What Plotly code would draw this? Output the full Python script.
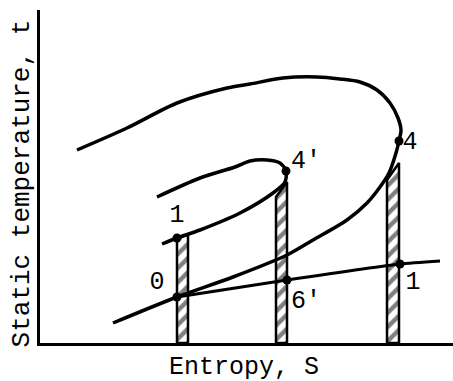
import plotly.graph_objects as go

# ---- data (entropy S, static temperature t) ----
outer_s = [7.3, 13.7, 19.3, 24.7, 27.3, 30.7, 32.7, 34.0, 34.9, 35.6, 35.9, 36.1, 35.8, 35.0, 33.7, 32.0, 30.0, 27.7, 24.3, 21.0, 18.7, 13.7, 8.7, 3.7]
outer_t = [2.0, 4.6, 6.6, 8.8, 10.3, 12.3, 14.0, 15.6, 17.0, 19.0, 20.2, 21.3, 22.5, 24.0, 25.3, 26.1, 26.4, 26.6, 26.5, 25.9, 25.5, 24.0, 21.5, 19.3]

inner_s = [12.2, 13.7, 16.0, 20.0, 23.3, 24.5, 24.6, 24.0, 22.7, 21.0, 19.5, 16.0, 11.7]
inner_t = [9.9, 10.5, 11.3, 13.0, 15.0, 16.1, 17.2, 18.0, 18.3, 18.2, 17.6, 16.5, 14.6]

line_s = [13.7, 24.7, 36.0, 40.0]
line_t = [4.6, 6.3, 7.9, 8.2]

point_s = [13.7, 13.7, 24.6, 35.9, 24.7, 36.0]
point_t = [10.5, 4.6, 17.2, 20.2, 6.3, 7.9]

label_text = ["1", "0", "4'", "4", "6'", "1"]
label_s = [13.7, 11.7, 26.6, 37.0, 26.6, 37.3]
label_t = [12.7, 6.0, 18.1, 20.0, 4.1, 6.0]

# hatched columns: left/right entropy and top temperature at each side
col_left = [13.7, 23.6, 34.7]
col_right = [14.8, 24.7, 35.9]
col_top_left = [10.5, 14.6, 16.3]
col_top_right = [10.8, 16.1, 18.0]

FONT = "Courier New, Liberation Mono, monospace"

fig = go.Figure()

for sl, sr, tl, tr in zip(col_left, col_right, col_top_left, col_top_right):
    fig.add_trace(go.Scatter(
        x=[sl, sl, sr, sr, sl], y=[0, tl, tr, 0, 0],
        mode='lines', fill='toself', fillcolor='white',
        fillpattern=dict(shape='/', size=10, solidity=0.45, fgcolor='black', bgcolor='white'),
        line=dict(color='black', width=2.5), hoverinfo='skip', showlegend=False))

fig.add_trace(go.Scatter(x=outer_s, y=outer_t, mode='lines', line=dict(color='black', width=3.5, shape='spline', smoothing=0.8), showlegend=False))
fig.add_trace(go.Scatter(x=inner_s, y=inner_t, mode='lines', line=dict(color='black', width=3.5, shape='spline', smoothing=0.8), showlegend=False))
fig.add_trace(go.Scatter(x=line_s, y=line_t, mode='lines', line=dict(color='black', width=3.2, shape='spline', smoothing=0.5), showlegend=False))

fig.add_trace(go.Scatter(x=point_s, y=point_t, mode='markers', marker=dict(color='black', size=9), showlegend=False))
fig.add_trace(go.Scatter(x=label_s, y=label_t, mode='text', text=label_text,
                         textfont=dict(family=FONT, size=25, color='black'), showlegend=False))

fig.add_annotation(text="Entropy, S", xref='paper', yref='paper', x=0.494, y=-0.074,
                   xanchor='center', yanchor='middle',
                   showarrow=False, font=dict(family=FONT, size=25, color='black'))
fig.add_annotation(text="Static temperature, t", xref='paper', yref='paper', x=-0.043, y=0.48,
                   xanchor='center', yanchor='middle',
                   textangle=-90, showarrow=False, font=dict(family=FONT, size=26, color='black'))

fig.update_xaxes(range=[0, 41.3], showline=True, linewidth=2.5, linecolor='black',
                 showgrid=False, zeroline=False, showticklabels=False, ticks='')
fig.update_yaxes(range=[0, 33.3], showline=True, linewidth=2.5, linecolor='black',
                 showgrid=False, zeroline=False, showticklabels=False, ticks='')

fig.update_layout(width=453, height=381, margin=dict(l=40, r=0, t=10, b=38),
                  plot_bgcolor='white', paper_bgcolor='white', showlegend=False)

fig.write_html("out.html", config={'displayModeBar': False},
               post_script="document.body.style.margin='0';")
